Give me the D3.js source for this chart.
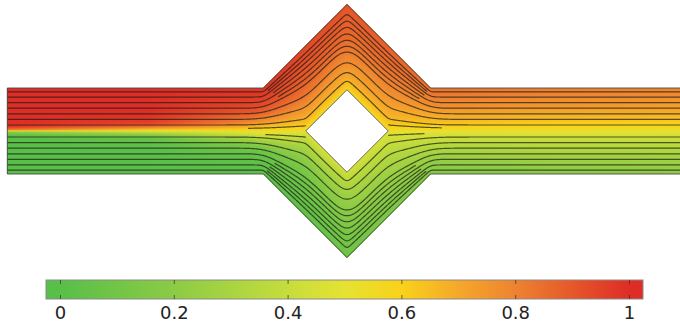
<!DOCTYPE html>
<html>
<head>
<meta charset="utf-8">
<script src="https://cdn.jsdelivr.net/npm/d3@7"></script>
<style>
  html, body { margin: 0; padding: 0; background: #fff; }
  svg { display: block; font-family: "DejaVu Sans", sans-serif; }
</style>
</head>
<body>
<svg id="chart" width="680" height="324"></svg>
<script>
// geometry in model units (channel height = 1, centre of the cell at 0,0)
const channelEnds = [-3.95, 3.95];
const channelHalf = 0.5;
const outerHalfDiag = 1.47;
const innerHalfDiag = 0.48;

// concentration read across the stream (s: 0 bottom wall, 0.5 split line, 1 top wall)
const profileS = [0, 0.1, 0.2, 0.3, 0.4, 0.45, 0.49, 0.5, 0.51, 0.55, 0.6, 0.7, 0.8, 0.9, 1];
const stationX = [-3.95, -2.3, -0.97, -0.48, 0, 0.48, 0.97, 2.4, 3.95];
const profInlet  = [0, 0, 0, 0, 0, 0.01, 0.2, 0.5, 0.8, 0.99, 1, 1, 1, 1, 1];
const profUp     = [0, 0, 0, 0, 0.04, 0.15, 0.4, 0.5, 0.6, 0.85, 0.96, 1, 1, 1, 1];
const profOpen   = [0.01, 0.02, 0.04, 0.1, 0.28, 0.42, 0.52, 0.55, 0.58, 0.66, 0.76, 0.88, 0.94, 0.97, 0.98];
const profTipL   = [0.03, 0.05, 0.08, 0.15, 0.28, 0.37, 0.45, 0.52, 0.58, 0.65, 0.72, 0.83, 0.89, 0.92, 0.94];
const profMid    = [0.08, 0.12, 0.17, 0.24, 0.32, 0.37, 0.42, 0.52, 0.6, 0.65, 0.7, 0.77, 0.84, 0.88, 0.91];
const profTipR   = [0.13, 0.17, 0.22, 0.29, 0.37, 0.42, 0.46, 0.53, 0.59, 0.64, 0.69, 0.76, 0.82, 0.86, 0.88];
const profClose  = [0.16, 0.2, 0.25, 0.31, 0.39, 0.44, 0.48, 0.52, 0.55, 0.6, 0.65, 0.72, 0.78, 0.82, 0.84];
const profDown   = [0.19, 0.23, 0.27, 0.33, 0.4, 0.45, 0.49, 0.52, 0.54, 0.58, 0.62, 0.69, 0.75, 0.79, 0.81];
const profOutlet = [0.2, 0.24, 0.28, 0.33, 0.4, 0.45, 0.49, 0.51, 0.53, 0.57, 0.61, 0.68, 0.73, 0.77, 0.8];
const profiles = [profInlet, profUp, profOpen, profTipL, profMid, profTipR, profClose, profDown, profOutlet];

// streamline positions (fraction of the gap, 0 at split line, 1 at the wall)
const streamT = [0.14, 0.27, 0.4, 0.53, 0.66, 0.79, 0.91];
// partial lines: near the stagnation tips and the extra ones in the wide cell
const shortLines = [
  { side: 1, t: 0.06, x0: -1.15, x1: -0.48 },
  { side: -1, t: 0.07, x0: -0.95, x1: -0.48 },
  { side: 1, t: 0.07, x0: 0.48, x1: 1.1 },
  { side: -1, t: 0.05, x0: 0.48, x1: 0.9 },
  { side: 1, t: 0.85, x0: -0.92, x1: 0.93 },
  { side: 1, t: 0.725, x0: -0.86, x1: 0.9 },
  { side: 1, t: 0.595, x0: -0.8, x1: 0.84 },
  { side: -1, t: 0.85, x0: -0.93, x1: 0.92 },
  { side: -1, t: 0.725, x0: -0.9, x1: 0.86 },
  { side: -1, t: 0.595, x0: -0.84, x1: 0.8 }
];

// colour bar
const cbStops  = [0, 0.2, 0.4, 0.5, 0.6, 0.7, 0.8, 0.9, 1];
const cbColors = ["#58bf48", "#8ccb45", "#c6dd3c", "#e6e232", "#f9d21a", "#f5a82a", "#ee8330", "#e6582a", "#de2d26"];
const cbTicks  = [0, 0.2, 0.4, 0.6, 0.8, 1];

const svg = d3.select("#chart");
const defs = svg.append("defs");

const x = d3.scaleLinear().domain([-4, 4]).range([3, 691]);
const y = d3.scaleLinear().domain([-0.5, 0.5]).range([174, 88]);
const color = d3.scaleLinear().domain(cbStops).range(cbColors).clamp(true);

// sampled walls
const dx = 0.01;
const xs = d3.range(0, Math.round((channelEnds[1] - channelEnds[0]) / dx) + 1).map(i => channelEnds[0] + i * dx);
const topRaw = xs.map(v => Math.max(channelHalf, outerHalfDiag - Math.abs(v)));
const obRaw = xs.map(v => Math.max(0, innerHalfDiag - Math.abs(v)));

const cache = new Map();
function smooth(name, arr, sigma) {
  const key = name + sigma.toFixed(3);
  if (cache.has(key)) return cache.get(key);
  let out;
  if (sigma < 0.004) out = arr.slice();
  else {
    const r = Math.ceil(3 * sigma / dx);
    const w = d3.range(-r, r + 1).map(j => Math.exp(-0.5 * (j * dx / sigma) ** 2));
    const ws = d3.sum(w);
    out = arr.map((_, i) => {
      let acc = 0;
      for (let j = -r; j <= r; j++) {
        const k = Math.min(arr.length - 1, Math.max(0, i + j));
        acc += arr[k] * w[j + r];
      }
      return acc / ws;
    });
  }
  cache.set(key, out);
  return out;
}

const sigmaMax = 0.22;
function curve(t, side) {
  const T = smooth("top", topRaw, sigmaMax * (1 - t));
  const O = smooth("ob", obRaw, sigmaMax * t);
  return xs.map((v, i) => side * (O[i] + (T[i] - O[i]) * t));
}

function cAt(s, i) {
  return d3.scaleLinear().domain(profileS).range(profiles[i])(s);
}
const x1 = x(channelEnds[0]), x2 = x(channelEnds[1]);
let gid = 0;
function bandGradient(s) {
  const id = "g" + (gid++);
  const g = defs.append("linearGradient").attr("id", id)
    .attr("gradientUnits", "userSpaceOnUse")
    .attr("x1", x1).attr("x2", x2).attr("y1", 0).attr("y2", 0);
  stationX.forEach((sx, i) => {
    g.append("stop").attr("offset", (x(sx) - x1) / (x2 - x1)).attr("stop-color", color(cAt(s, i)));
  });
  return "url(#" + id + ")";
}

const field = svg.append("g");

// base fill under the bands
const outline = [[channelEnds[0], -channelHalf], [channelEnds[0], channelHalf], [-(outerHalfDiag - channelHalf), channelHalf],
  [0, outerHalfDiag], [outerHalfDiag - channelHalf, channelHalf], [channelEnds[1], channelHalf], [channelEnds[1], -channelHalf],
  [outerHalfDiag - channelHalf, -channelHalf], [0, -outerHalfDiag], [-(outerHalfDiag - channelHalf), -channelHalf]];
const hole = [[-innerHalfDiag, 0], [0, innerHalfDiag], [innerHalfDiag, 0], [0, -innerHalfDiag]];
const poly = pts => "M" + pts.map(p => x(p[0]) + "," + y(p[1])).join("L") + "Z";

field.append("path").attr("d", poly(outline) + poly(hole)).attr("fill-rule", "evenodd").attr("fill", bandGradient(0.5));

// colour bands, painted from the split line outwards so no seams show
const nBands = 44;
const tEdges = d3.range(0, nBands).map(k => k / nBands);
[1, -1].forEach(side => {
  const wall = xs.map((v, i) => side * topRaw[i]);
  tEdges.forEach((t, k) => {
    const inner = t === 0 ? xs.map((v, i) => side * obRaw[i]) : curve(t, side);
    const tMid = (k + 0.5) / nBands;
    const s = 0.5 + side * 0.5 * tMid;
    const area = d3.area().x((d, i) => x(xs[i])).y0((d, i) => y(inner[i])).y1((d, i) => y(wall[i]));
    field.append("path").attr("d", area(xs)).attr("fill", bandGradient(s));
  });
});

// streamlines
const lines = svg.append("g").attr("fill", "none").attr("stroke", "#1e1e14")
  .attr("stroke-opacity", 0.72).attr("stroke-width", 1.2);
const line = d3.line().x(d => x(d[0])).y(d => y(d[1]));
[1, -1].forEach(side => {
  streamT.forEach(t => {
    const c = curve(t, side);
    lines.append("path").attr("d", line(xs.map((v, i) => [v, c[i]])));
  });
});
shortLines.forEach(l => {
  const c = curve(l.t, l.side);
  const pts = xs.map((v, i) => [v, c[i]]).filter(p => p[0] >= l.x0 - 1e-9 && p[0] <= l.x1 + 1e-9);
  lines.append("path").attr("d", line(pts));
});

// outlines
svg.append("path").attr("d", poly(outline)).attr("fill", "none").attr("stroke", "#4a4a4a").attr("stroke-width", 0.9);
svg.append("path").attr("d", poly(hole)).attr("fill", "#fff").attr("stroke", "#555").attr("stroke-width", 0.9);

// colour bar
const cb = d3.scaleLinear().domain([0, 1]).range([60, 629]);
const cbX0 = 46, cbX1 = 643, cbY0 = 280, cbY1 = 299;
const cbGrad = defs.append("linearGradient").attr("id", "cbgrad")
  .attr("gradientUnits", "userSpaceOnUse").attr("x1", cbX0).attr("x2", cbX1).attr("y1", 0).attr("y2", 0);
cbStops.forEach((v, i) => {
  cbGrad.append("stop").attr("offset", (cb(v) - cbX0) / (cbX1 - cbX0)).attr("stop-color", cbColors[i]);
});
svg.append("rect").attr("x", cbX0).attr("y", cbY0).attr("width", cbX1 - cbX0).attr("height", cbY1 - cbY0)
  .attr("fill", "url(#cbgrad)").attr("stroke", "#8a8a8a").attr("stroke-width", 1);

const axB = svg.append("g").attr("transform", `translate(0,${cbY1})`)
  .call(d3.axisBottom(cb).tickValues(cbTicks).tickSize(-4).tickPadding(7).tickFormat(d3.format("~g")));
const axT = svg.append("g").attr("transform", `translate(0,${cbY0})`)
  .call(d3.axisTop(cb).tickValues(cbTicks).tickSize(-4).tickFormat(""));
[axB, axT].forEach(a => {
  a.select(".domain").remove();
  a.selectAll(".tick line").attr("stroke", "#333").attr("stroke-opacity", 0.7);
});
axB.selectAll(".tick text").attr("fill", "#222").style("font-size", "18px").style("font-family", "DejaVu Sans, sans-serif");
</script>
</body>
</html>
